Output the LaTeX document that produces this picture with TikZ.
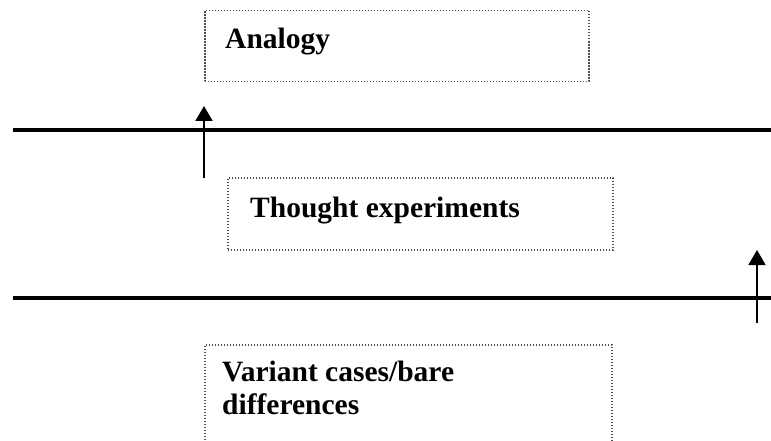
\documentclass[tikz,border=0pt]{standalone}
\usepackage{fontspec}
\setmainfont{Liberation Serif}
\usetikzlibrary{arrows.meta}
\begin{document}
\begin{tikzpicture}[x=1pt,y=-1pt,
  box/.style={draw=black!70, line width=1.5pt, dash pattern=on 1.4pt off 1.6pt, inner sep=0pt},
  lbl/.style={inner sep=0pt, font=\fontsize{29.5}{33}\selectfont\bfseries, align=left},
  rule/.style={line width=4pt},
  uparrow/.style={line width=1.7pt, -{Triangle[width=17pt,length=15pt]}}]
\useasboundingbox (0,0) rectangle (771,441);
% boxes
\node[box, minimum width=384pt, minimum height=71pt] (analogy) at (397,46) {};
\node[box, minimum width=385pt, minimum height=72pt] (thought) at (420.5,214) {};
\node[box, minimum width=407pt, minimum height=130pt] (variant) at (408.5,410) {};
% texts
\node[lbl, anchor=base west] (tA) at (225,49) {Analogy};
\node[lbl, anchor=base west] (tT) at (250,217) {Thought experiments};
\node[lbl, anchor=north west] (tV) at (222,361) {Variant cases/bare\\differences};
% rules
\coordinate (r1a) at (13,130); \coordinate (r1b) at (771,130);
\coordinate (r2a) at (13,298); \coordinate (r2b) at (771,298);
\draw[rule] (r1a) -- (r1b);
\draw[rule] (r2a) -- (r2b);
% arrows
\coordinate (a1s) at (204,178); \coordinate (a1e) at (204,106);
\coordinate (a2s) at (757,323); \coordinate (a2e) at (757,250);
\draw[uparrow] (a1s) -- (a1e);
\draw[uparrow] (a2s) -- (a2e);
\end{tikzpicture}
\end{document}
